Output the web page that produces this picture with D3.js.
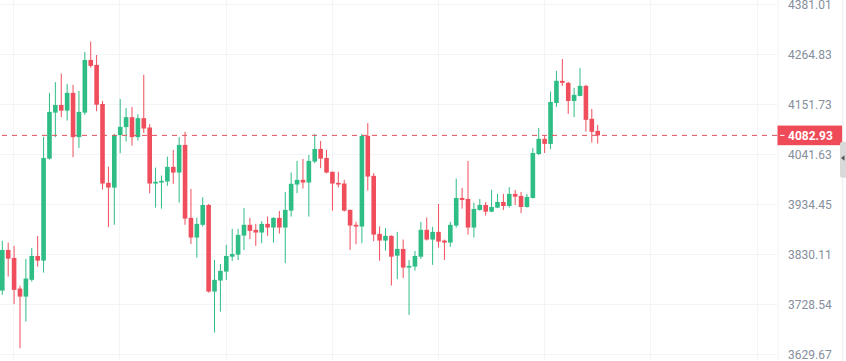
<!DOCTYPE html>
<html>
<head>
<meta charset="utf-8">
<script src="https://cdn.jsdelivr.net/npm/d3@7"></script>
<style>
html,body{margin:0;padding:0;background:#fff;overflow:hidden;}
svg{display:block;}
</style>
</head>
<body>
<svg id="chart" width="846" height="361"></svg>
<script>
// ---- DATA ----
const opens  = [3756.2,3839.1,3822.6,3760.2,3744.0,3777.9,3826.7,3817.1,4032.2,4133.2,
                4150.2,4137.6,4177.3,4079.1,4133.2,4251.9,4240.6,4152.4,3980.1,3970.0,
                4083.5,4101.1,4123.1,4079.1,4120.9,4100.2,3978.6,3980.8,3982.9,4014.4,
                4002.2,4062.1,3905.9,3864.8,3891.3,3933.0,3754.1,3776.5,3794.7,3825.2,
                3829.3,3868.9,3891.3,3880.8,3875.2,3893.3,3885.6,3905.9,3885.6,3921.1,
                3976.5,3986.5,3980.8,4025.8,4053.3,4033.7,4003.7,3980.1,3978.6,3922.6,
                3891.3,3887.7,4081.9,3995.1,3872.5,3858.5,3868.3,3827.3,3841.2,3802.9,
                3805.0,3825.2,3880.8,3860.6,3876.6,3858.5,3854.3,3889.8,3947.9,3945.8,
                3885.6,3922.6,3933.0,3919.0,3927.4,3939.4,3930.9,3956.5,3952.2,3928.8,
                3947.9,4042.3,4075.3,4064.3,4154.7,4204.4,4199.9,4159.2,4170.5,4193.1,
                4119.4,4092.9];
const highs  = [3857.9,3854.3,3847.4,3765.7,3820.6,3843.3,3867.7,4079.7,4177.3,4201.5,
                4220.9,4197.6,4195.4,4181.8,4270.2,4294.1,4263.2,4159.2,4015.0,4086.3,
                4163.7,4143.6,4145.8,4129.7,4218.0,4107.7,4012.9,3995.8,4036.5,4051.1,
                4079.1,4090.7,3967.2,3906.5,3949.5,3935.1,3818.5,3810.4,3849.5,3882.9,
                3882.9,3926.7,3905.9,3893.3,3899.0,3908.6,3907.3,3920.5,3960.8,4002.2,
                4027.3,4031.6,4040.1,4086.3,4070.9,4051.1,4004.5,4003.7,3986.5,3923.5,
                3897.5,4086.3,4109.9,4000.9,3888.1,3884.4,3869.5,3876.6,3860.6,3818.5,
                3837.0,3897.5,3906.5,3887.1,3935.1,3860.6,3897.5,3989.3,3969.4,4027.3,
                3937.9,3945.8,3939.4,3965.1,3956.5,3956.5,3970.9,3965.1,3960.8,3956.5,
                4055.5,4099.5,4081.9,4180.2,4227.1,4254.2,4202.2,4188.6,4233.8,4195.4,
                4141.4,4106.1];
const lows   = [3747.4,3784.6,3729.1,3641.5,3694.1,3774.4,3804.9,3792.7,4030.0,4079.1,
                4123.1,4115.6,4035.2,4055.5,4128.2,4234.5,4136.3,3965.7,3886.4,3891.3,
                4043.8,4069.4,4060.6,4071.6,4087.9,3958.0,3927.4,3925.3,3973.7,3978.0,
                3937.9,3891.3,3851.6,3823.2,3887.7,3752.1,3672.4,3713.9,3777.9,3816.5,
                3818.5,3839.1,3861.4,3847.4,3853.0,3868.3,3854.3,3873.1,3811.8,3908.6,
                3958.0,3967.9,3908.6,4022.3,4011.6,4000.5,3921.1,3970.0,3919.0,3839.1,
                3851.0,3853.0,3963.6,3857.2,3817.1,3837.6,3766.3,3779.3,3781.4,3707.4,
                3796.8,3820.6,3858.5,3808.4,3843.9,3818.5,3845.4,3885.6,3925.3,3871.0,
                3864.8,3921.0,3910.7,3918.0,3926.5,3922.6,3927.4,3933.0,3915.7,3927.4,
                3946.5,4040.1,4044.5,4053.3,4145.8,4193.1,4130.4,4123.1,4169.5,4091.4,
                4067.2,4065.0];
const closes = [3839.1,3821.2,3757.6,3744.0,3780.5,3826.7,3817.1,4033.7,4134.8,4150.2,
                4137.6,4177.3,4079.1,4134.8,4251.9,4238.4,4150.8,3978.6,3970.0,4083.5,
                4101.7,4123.1,4079.1,4120.9,4098.0,3978.6,3982.3,3984.4,4014.4,4002.2,
                4062.1,3904.4,3864.8,3893.3,3933.0,3754.1,3777.9,3796.2,3826.7,3830.7,
                3870.4,3891.3,3878.7,3875.2,3893.3,3885.6,3905.9,3885.6,3922.6,3978.0,
                3986.5,3980.8,4027.3,4053.3,4032.2,4002.2,3978.6,3976.5,3921.1,3889.8,
                3887.7,4081.9,3993.6,3871.0,3858.5,3868.3,3825.2,3841.2,3802.9,3806.3,
                3826.7,3880.8,3860.6,3876.6,3856.4,3854.3,3891.3,3947.9,3943.7,3885.6,
                3924.6,3933.0,3919.0,3928.8,3939.4,3930.9,3956.5,3950.7,3928.8,3950.1,
                4044.5,4075.3,4064.3,4156.9,4204.4,4199.9,4159.2,4172.8,4193.1,4117.2,
                4090.7,4082.93];
const yTickLabels = ["4381.01","4264.83","4151.73","4041.63","3934.45","3830.11","3728.54","3629.67"];
const lastPrice = 4082.93;

// ---- CHART ----
const W = 846, H = 361;
const plotRight = 777.5;
const upColor = "#2ebd85", downColor = "#f04e5c";
const svg = d3.select("#chart");
svg.append("rect").attr("width", W).attr("height", H).attr("fill", "#fff");

const yTicks = yTickLabels.map(Number);
const y = d3.scaleLog().domain([d3.min(yTicks), d3.max(yTicks)]).range([354.3, 4.3]);
const n = closes.length;
const x = d3.scaleLinear().domain([0, n - 1]).range([2.3, 597.7]);

// grid
const grid = svg.append("g");
grid.selectAll("line.h").data(yTicks).join("line")
  .attr("x1", 0).attr("x2", plotRight)
  .attr("y1", d => Math.round(y(d)) + 0.5).attr("y2", d => Math.round(y(d)) + 0.5)
  .attr("stroke", "#f3f4f6").attr("stroke-width", 1);
grid.selectAll("line.v").data(d3.range(8).map(k => 1.87 + 18.01 * k)).join("line")
  .attr("x1", d => Math.round(x(d)) + 0.5).attr("x2", d => Math.round(x(d)) + 0.5)
  .attr("y1", 0).attr("y2", H)
  .attr("stroke", "#f3f4f6").attr("stroke-width", 1);
svg.append("line").attr("x1", plotRight + 0.5).attr("x2", plotRight + 0.5)
  .attr("y1", 0).attr("y2", H).attr("stroke", "#f3f4f6");

// candles
const data = closes.map((c, i) => ({i, o: opens[i], h: highs[i], l: lows[i], c}));
const bodyW = 4.6;
const cg = svg.append("g");
cg.selectAll("line.wick").data(data).join("line")
  .attr("x1", d => x(d.i)).attr("x2", d => x(d.i))
  .attr("y1", d => y(d.h)).attr("y2", d => y(d.l))
  .attr("stroke", d => d.c >= d.o ? upColor : downColor)
  .attr("stroke-width", 1);
cg.selectAll("rect.body").data(data).join("rect")
  .attr("x", d => x(d.i) - bodyW / 2)
  .attr("width", bodyW)
  .attr("y", d => y(Math.max(d.o, d.c)))
  .attr("height", d => Math.max(1.2, Math.abs(y(d.o) - y(d.c))))
  .attr("fill", d => d.c >= d.o ? upColor : downColor);

// last price line
const py = y(lastPrice);
svg.append("line").attr("x1", 0).attr("x2", plotRight)
  .attr("y1", py).attr("y2", py)
  .attr("stroke", "#e2505d").attr("stroke-width", 1)
  .attr("stroke-dasharray", "5,5").attr("stroke-dashoffset", 8);

// y axis labels
svg.append("g").selectAll("text").data(yTicks).join("text")
  .attr("x", 788).attr("y", d => y(d)).attr("dy", "0.36em")
  .attr("font-family", "Roboto, sans-serif").attr("font-size", 12)
  .attr("fill", "#858e9c")
  .text((d, i) => yTickLabels[i]);

// last price label
svg.append("rect").attr("x", plotRight).attr("y", py - 9.8)
  .attr("width", 842.3 - plotRight).attr("height", 19.6).attr("fill", "#ef4a58");
svg.append("line").attr("x1", 780).attr("x2", 784.5).attr("y1", py).attr("y2", py)
  .attr("stroke", "#fff").attr("stroke-width", 1);
svg.append("text").attr("x", 788).attr("y", py).attr("dy", "0.36em")
  .attr("font-family", "Roboto, sans-serif").attr("font-size", 12)
  .attr("font-weight", "bold").attr("fill", "#fff")
  .text(lastPrice.toFixed(2));

// right edge strip and tab
svg.append("line").attr("x1", 842.8).attr("x2", 842.8).attr("y1", 0).attr("y2", H)
  .attr("stroke", "#ececec").attr("stroke-width", 1);
svg.append("path")
  .attr("d", "M846,141.7 L842.5,141.7 Q840,141.7 840,144.2 L840,175.2 Q840,177.7 842.5,177.7 L846,177.7 Z")
  .attr("fill", "#d9d9d9");
svg.append("path").attr("d", "M841,158 L844.5,155.2 L844.5,160.8 Z").attr("fill", "#555");
</script>
</body>
</html>
